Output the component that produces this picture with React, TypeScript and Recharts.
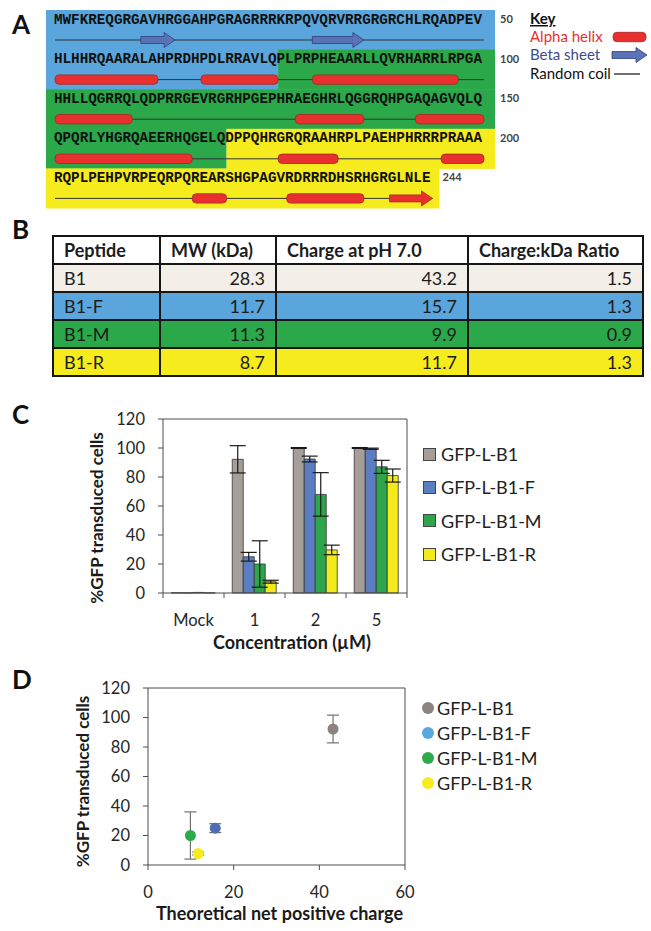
import React from 'react';
import * as Recharts from 'recharts';
import { BarChart, Bar, ScatterChart, Scatter, XAxis, YAxis, ErrorBar } from 'recharts';

// ---- panel A: B1 sequence and secondary structure ----
const sequence =
  'MWFKREQGRGAVHRGGAHPGRAGRRRKRPQVQRVRRGRGRCHLRQADPEV' +
  'HLHHRQAARALAHPRDHPDLRRAVLQPLPRPHEAARLLQVRHARRLRPGA' +
  'HHLLQGRRQLQDPRRGEVRGRHPGEPHRAEGHRLQGGRQHPGAQAGVQLQ' +
  'QPQRLYHGRQAEERHQGELQDPPQHRGRQRAAHRPLPAEHPHRRRPRAAA' +
  'RQPLPEHPVRPEQRPQREARSHGPAGVRDRRRDHSRHGRGLNLE';
const residuesPerRow = 50;
const fragmentStarts = [1, 77, 171];
const fragmentEnds = [76, 170, 244];
const helixStarts = [51, 68, 81, 101, 129, 143, 151, 177, 196, 217, 228];
const helixEnds = [62, 76, 97, 109, 136, 150, 166, 183, 200, 220, 236];
const strandStarts = [11, 31, 240];
const strandEnds = [14, 36, 244];
const keyLabels = ['Alpha helix', 'Beta sheet', 'Random coil'];

// ---- panel B: peptide table ----
const tableHeaders = ['Peptide', 'MW (kDa)', 'Charge at pH 7.0', 'Charge:kDa Ratio'];
const peptides = ['B1', 'B1-F', 'B1-M', 'B1-R'];
const mwKda = [28.3, 11.7, 11.3, 8.7];
const chargePh7 = [43.2, 15.7, 9.9, 11.7];
const chargeRatio = [1.5, 1.3, 0.9, 1.3];

// ---- panel C: %GFP transduced cells by concentration ----
const concentrations = ['Mock', '1', '2', '5'];
const seriesNames = ['GFP-L-B1', 'GFP-L-B1-F', 'GFP-L-B1-M', 'GFP-L-B1-R'];
const b1Values = [0.2, 92.2, 100, 100];
const b1Errors = [0, 9.4, 0.3, 0.3];
const b1fValues = [0.1, 25, 92.4, 99.5];
const b1fErrors = [0, 3, 2, 0.4];
const b1mValues = [0.4, 20, 68, 87];
const b1mErrors = [0, 16, 15, 4.5];
const b1rValues = [0.1, 7.8, 29.7, 81];
const b1rErrors = [0, 1, 3.3, 4.5];
const yTicks = [0, 20, 40, 60, 80, 100, 120];

// ---- panel D: charge vs transduction at 1 uM ----
const chargeTicks = [0, 20, 40, 60];

const FONT = 'Lato, "Open Sans", sans-serif';
const MONO = '"Liberation Mono", "DejaVu Sans Mono", monospace';
const AXIS = '#4d4d4d';
const fragColors = ['#5AA6DC', '#2BA84A', '#F6EB1C'];
const rowColors = ['#F3EEE8', '#5AA6DC', '#2BA84A', '#F6EB1C'];
const barColors = ['#A69E99', '#5B7EC3', '#2DA64A', '#F3EA1C'];
const dotColors = ['#8A837F', '#4E6DB5', '#2DAA4A', '#F4EC1E'];
const dotLegendColors = ['#8A837F', '#59A9E0', '#2DAA4A', '#F4EC1E'];
const HELIX = '#E8312F';
const HELIX_EDGE = '#A82424';
const STRAND = '#5A72B6';
const STRAND_EDGE = '#2F3F80';

const barSeries = [
  { key: 'b1', errKey: 'b1Err', values: b1Values, errors: b1Errors },
  { key: 'b1f', errKey: 'b1fErr', values: b1fValues, errors: b1fErrors },
  { key: 'b1m', errKey: 'b1mErr', values: b1mValues, errors: b1mErrors },
  { key: 'b1r', errKey: 'b1rErr', values: b1rValues, errors: b1rErrors },
];

const barData = concentrations.map((c, i) => {
  const row: any = { conc: c };
  barSeries.forEach((s) => {
    row[s.key] = s.values[i];
    row[s.errKey] = s.errors[i];
  });
  return row;
});

// 1 uM values against theoretical charge
const scatterSeries = barSeries.map((s, i) => ({
  name: seriesNames[i],
  data: [{ x: chargePh7[i], y: s.values[1], err: s.errors[1] }],
}));

// sequence layout
const X0 = 55;
const CW = 8.58;
const ROW_TOP = 10;
const ROW_H = 39.6;
const BOX_L = 46;
const BOX_R = 495;

const rowIndex = (r: number) => Math.floor((r - 1) / residuesPerRow);
const xOf = (r: number) => X0 + ((r - 1) % residuesPerRow) * CW;
const xEnd = (r: number) => xOf(r) + CW;
const lineY = (row: number) => ROW_TOP + row * ROW_H + 30;

const arrowPoints = (xs: number, xe: number, y: number) => {
  const head = 11;
  return [
    [xs, y - 3.5], [xe - head, y - 3.5], [xe - head, y - 7.5], [xe, y],
    [xe - head, y + 7.5], [xe - head, y + 3.5], [xs, y + 3.5],
  ].map((p) => p.join(',')).join(' ');
};

const SequencePanel = () => {
  const nRows = Math.ceil(sequence.length / residuesPerRow);
  const rows = Array.from({ length: nRows }, (_, i) => i);
  return (
    <svg width={651} height={215} style={{ position: 'absolute', left: 0, top: 0 }}>
      {rows.map((row) => {
        const rowStart = row * residuesPerRow + 1;
        const rowEnd = Math.min((row + 1) * residuesPerRow, sequence.length);
        const top = ROW_TOP + row * ROW_H;
        return fragmentStarts.map((fs, f) => {
          const s = Math.max(fs, rowStart);
          const e = Math.min(fragmentEnds[f], rowEnd);
          if (s > e) return null;
          const left = s === rowStart ? BOX_L : xOf(s);
          const fullRow = rowEnd - rowStart + 1 === residuesPerRow;
          const right = e === rowEnd ? (fullRow ? BOX_R : xEnd(e) + 7) : xEnd(e);
          return <rect key={`bg${row}-${f}`} x={left} y={top} width={right - left} height={ROW_H + 0.5} fill={fragColors[f]} />;
        });
      })}
      {rows.map((row) => {
        const rowStart = row * residuesPerRow + 1;
        const rowEnd = Math.min((row + 1) * residuesPerRow, sequence.length);
        const seq = sequence.slice(rowStart - 1, rowEnd);
        const top = ROW_TOP + row * ROW_H;
        const fullRow = seq.length === residuesPerRow;
        return (
          <g key={`row${row}`}>
            <text x={X0 - 1} y={top + 13.5} fontFamily={MONO} fontWeight={700} fontSize={14.3} fill="#111"
              textLength={seq.length * CW - 1} lengthAdjust="spacing">{seq}</text>
            <line x1={X0} x2={xEnd(rowEnd)} y1={lineY(row)} y2={lineY(row)} stroke="#333" strokeWidth={1} />
            <text x={fullRow ? BOX_R + 5 : xEnd(rowEnd) + 10} y={top + 13} fontFamily={FONT} fontWeight={700}
              fontSize={11} fill="#444">{rowEnd}</text>
          </g>
        );
      })}
      {helixStarts.map((hs, i) => {
        const row = rowIndex(hs);
        return (
          <rect key={`h${i}`} x={xOf(hs)} y={lineY(row) - 4.7} width={xEnd(helixEnds[i]) - xOf(hs)} height={9.4}
            rx={4} fill={HELIX} stroke={HELIX_EDGE} strokeWidth={0.8} />
        );
      })}
      {strandStarts.map((ss, i) => {
        const row = rowIndex(ss);
        const last = strandEnds[i] === sequence.length;
        return (
          <polygon key={`s${i}`} points={arrowPoints(xOf(ss), xEnd(strandEnds[i]), lineY(row))}
            fill={last ? HELIX : STRAND} stroke={last ? HELIX_EDGE : STRAND_EDGE} strokeWidth={0.8} />
        );
      })}
      <text x={530} y={24} fontFamily={FONT} fontWeight={700} fontSize={15} fill="#111" textDecoration="underline">Key</text>
      <text x={530} y={42} fontFamily={FONT} fontSize={15} fill={HELIX}>{keyLabels[0]}</text>
      <text x={530} y={60} fontFamily={FONT} fontSize={15} fill="#3D4A8C">{keyLabels[1]}</text>
      <text x={530} y={79} fontFamily={FONT} fontSize={15} fill="#111">{keyLabels[2]}</text>
      <rect x={613} y={32.3} width={33} height={9.4} rx={4} fill={HELIX} stroke={HELIX_EDGE} strokeWidth={0.8} />
      <polygon points={arrowPoints(612, 647, 55)} fill={STRAND} stroke={STRAND_EDGE} strokeWidth={0.8} />
      <line x1={614} x2={640} y1={74} y2={74} stroke="#111" strokeWidth={1.2} />
    </svg>
  );
};

const cell: React.CSSProperties = {
  border: '2px solid #161616',
  height: 26,
  padding: '0 10px',
  lineHeight: '26px',
  whiteSpace: 'nowrap',
  boxSizing: 'border-box',
};

const PeptideTable = () => (
  <table style={{ position: 'absolute', left: 52, top: 235, width: 590, borderCollapse: 'collapse', tableLayout: 'fixed',
    fontFamily: FONT, fontSize: 18, color: '#1c1c1c' }}>
    <colgroup>
      <col style={{ width: 107 }} />
      <col style={{ width: 116 }} />
      <col style={{ width: 192 }} />
      <col style={{ width: 175 }} />
    </colgroup>
    <thead>
      <tr style={{ background: '#fff' }}>
        {tableHeaders.map((h) => (
          <th key={h} style={{ ...cell, textAlign: 'left', fontWeight: 700 }}>{h}</th>
        ))}
      </tr>
    </thead>
    <tbody>
      {peptides.map((p, i) => (
        <tr key={p} style={{ background: rowColors[i] }}>
          <td style={{ ...cell, textAlign: 'left' }}>{p}</td>
          <td style={{ ...cell, textAlign: 'right' }}>{mwKda[i].toFixed(1)}</td>
          <td style={{ ...cell, textAlign: 'right' }}>{chargePh7[i].toFixed(1)}</td>
          <td style={{ ...cell, textAlign: 'right' }}>{chargeRatio[i].toFixed(1)}</td>
        </tr>
      ))}
    </tbody>
  </table>
);

const tickStyle = { fill: '#262626', fontSize: 16.5, fontFamily: FONT };
const TICK = 5;
const TICK_GAP = 16;

// category label plus Excel-style tick marks on the band edges
const CategoryTick = (props: any) => {
  const { x, y, payload, index } = props;
  const half = payload && payload.offset ? payload.offset : (props.width || 244) / concentrations.length / 2;
  const axisY = y - TICK - TICK_GAP;
  const last = index === concentrations.length - 1;
  return (
    <g>
      <line x1={x - half} x2={x - half} y1={axisY} y2={axisY + TICK} stroke={AXIS} />
      {last && <line x1={x + half} x2={x + half} y1={axisY} y2={axisY + TICK} stroke={AXIS} />}
      <text x={x} y={y} dy="0.71em" textAnchor="middle" {...tickStyle}>{payload.value}</text>
    </g>
  );
};

// top and right edges of the plot box, from the chart's own plot area
const R: any = Recharts;
const usePlotBox = () => {
  if (R.usePlotArea) return R.usePlotArea();
  if (R.useOffset && R.useChartWidth && R.useChartHeight) {
    const o = R.useOffset();
    const w = R.useChartWidth();
    const h = R.useChartHeight();
    if (!o || !w || !h) return null;
    return { x: o.left, y: o.top, width: w - o.left - o.right, height: h - o.top - o.bottom };
  }
  return null;
};

const PlotFrame = () => {
  const area = usePlotBox();
  if (!area) return null;
  const { x, y, width, height } = area;
  return <path d={`M${x},${y}H${x + width}V${y + height}`} fill="none" stroke={AXIS} strokeWidth={1} />;
};

const yTitle = (text: string, shift: number) => (props: any) => {
  const { x, y, width, height } = props.viewBox;
  const cx = x + width / 2;
  const cy = y + height / 2 + shift;
  return (
    <text x={cx} y={cy} transform={`rotate(-90, ${cx}, ${cy})`} textAnchor="middle" dominantBaseline="central"
      fontFamily={FONT} fontWeight={700} fontSize={17} fill="#1a1a1a">{text}</text>
  );
};

const xTitle = (text: string, dx: number, dy: number) => (props: any) => {
  const { x, y, width } = props.viewBox;
  return (
    <text x={x + width / 2 + dx} y={y + dy} textAnchor="middle" dominantBaseline="central"
      fontFamily={FONT} fontWeight={700} fontSize={18} fill="#1a1a1a">{text}</text>
  );
};

const BarPanel = () => (
  <div style={{ position: 'absolute', left: 0, top: 400 }}>
    <BarChart width={651} height={260} data={barData} margin={{ top: 19, right: 244, bottom: 7, left: 29 }}
      barCategoryGap="13.5%" barGap={0}>
      <XAxis dataKey="conc" type="category" stroke={AXIS} tickLine={false} height={60} tickSize={TICK}
        tickMargin={TICK_GAP} interval={0} tick={<CategoryTick />} label={xTitle('Concentration (µM)', 7, 49)} />
      <YAxis domain={[0, 120]} ticks={yTicks} interval={0} width={134} tickSize={TICK} tickMargin={13} stroke={AXIS}
        tick={tickStyle} label={yTitle('%GFP transduced cells', 12)} />
      <PlotFrame />
      {barSeries.map((s, i) => (
        <Bar key={s.key} dataKey={s.key} name={seriesNames[i]} fill={barColors[i]} stroke="#333"
          strokeWidth={0.8} isAnimationActive={false}>
          <ErrorBar dataKey={s.errKey} width={8} stroke="#1a1a1a" strokeWidth={1.2} />
        </Bar>
      ))}
    </BarChart>
  </div>
);

const ScatterPanel = () => (
  <div style={{ position: 'absolute', left: 0, top: 660 }}>
    <ScatterChart width={651} height={271} margin={{ top: 28, right: 246, bottom: 6, left: 16 }}>
      <XAxis type="number" dataKey="x" domain={[0, 60]} ticks={chargeTicks} interval={0} height={60} tickSize={TICK}
        tickMargin={TICK_GAP} stroke={AXIS} tick={tickStyle} label={xTitle('Theoretical net positive charge', 3, 48)} />
      <YAxis type="number" dataKey="y" domain={[0, 120]} ticks={yTicks} interval={0} width={132} tickSize={TICK}
        tickMargin={13} stroke={AXIS} tick={tickStyle} label={yTitle('%GFP transduced cells', 5)} />
      <PlotFrame />
      {scatterSeries.map((s, i) => (
        <Scatter key={s.name} name={s.name} data={s.data} fill={dotColors[i]} isAnimationActive={false}
          shape={(p: any) => <circle cx={p.cx} cy={p.cy} r={5.5} fill={dotColors[i]} />}>
          <ErrorBar dataKey="err" direction="y" width={6} stroke="#707070" strokeWidth={1.2} />
        </Scatter>
      ))}
    </ScatterChart>
  </div>
);

const legendText: React.CSSProperties = { fontFamily: FONT, fontSize: 18, color: '#222', marginLeft: 5 };

const BarLegend = () => (
  <>
    {seriesNames.map((n, i) => (
      <div key={n} style={{ position: 'absolute', left: 423, top: 443 + i * 33.4, height: 22, display: 'flex', alignItems: 'center' }}>
        <div style={{ width: 11, height: 11, background: barColors[i], border: '1px solid #444' }} />
        <span style={legendText}>{n}</span>
      </div>
    ))}
  </>
);

const ScatterLegend = () => (
  <>
    {seriesNames.map((n, i) => (
      <div key={n} style={{ position: 'absolute', left: 422, top: 697 + i * 25, height: 22, display: 'flex', alignItems: 'center' }}>
        <div style={{ width: 12, height: 12, borderRadius: 6, background: dotLegendColors[i] }} />
        <span style={{ ...legendText, marginLeft: 3 }}>{n}</span>
      </div>
    ))}
  </>
);

const panelLetter = (t: string, top: number) => (
  <div style={{ position: 'absolute', left: 12, top, fontFamily: FONT, fontWeight: 700, fontSize: 26, lineHeight: 1, color: '#111' }}>{t}</div>
);

export default function App() {
  return (
    <div style={{ position: 'absolute', left: 0, top: 0, width: 651, height: 931, background: '#fff', overflow: 'hidden' }}>
      <SequencePanel />
      {panelLetter('A', 11)}
      {panelLetter('B', 216)}
      <PeptideTable />
      {panelLetter('C', 401)}
      <BarPanel />
      <BarLegend />
      {panelLetter('D', 666)}
      <ScatterPanel />
      <ScatterLegend />
    </div>
  );
}
